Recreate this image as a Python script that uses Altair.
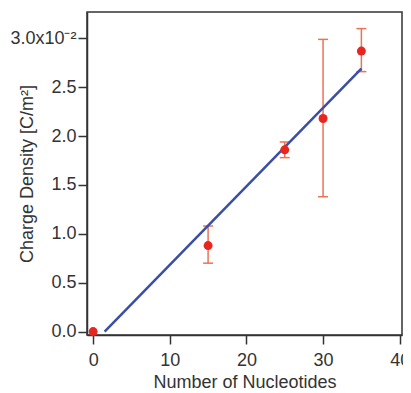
import altair as alt
import pandas as pd

# Data (charge density in units of 1e-2 C/m^2)
nucleotides = [0, 15, 25, 30, 35]
density = [0.0, 0.88, 1.86, 2.18, 2.87]
err_low = [0.0, 0.70, 1.78, 1.38, 2.66]
err_high = [0.0, 1.08, 1.94, 2.99, 3.10]

fit_x = [1.5, 35.0]
fit_y = [0.0, 2.69]

x_ticks = [0, 10, 20, 30, 40]
y_ticks = [0.0, 0.5, 1.0, 1.5, 2.0, 2.5, 3.0]

pts = pd.DataFrame({"n": nucleotides, "d": density, "lo": err_low, "hi": err_high})
err = pts[pts["hi"] > pts["lo"]]
fit = pd.DataFrame({"n": fit_x, "d": fit_y})

FONT = "Liberation Sans"
ERR_COLOR = "#ec7256"
PT_COLOR = "#e8261f"
LINE_COLOR = "#3b4ea6"

xs = alt.Scale(domain=[-0.8, 40.3], nice=False, zero=False)
ys = alt.Scale(domain=[-0.035, 3.27], nice=False, zero=False)

x_axis = alt.Axis(values=x_ticks, title="Number of Nucleotides", grid=False,
                  tickSize=9, labelPadding=7, titlePadding=4)
y_axis = alt.Axis(values=y_ticks, title="Charge Density [C/m²]", grid=False,
                  tickSize=9, labelPadding=2, titleX=-51,
                  labelExpr="datum.value > 2.99 ? '3.0x10⁻²' : format(datum.value, '.1f')")

base_x = alt.X("n:Q", scale=xs, axis=x_axis)
base_y = alt.Y("d:Q", scale=ys, axis=y_axis)

line = alt.Chart(fit).mark_line(color=LINE_COLOR, strokeWidth=2.5).encode(x=base_x, y=base_y)

bars = alt.Chart(err).mark_rule(color=ERR_COLOR, strokeWidth=1.5).encode(
    x=alt.X("n:Q", scale=xs), y=alt.Y("lo:Q", scale=ys), y2="hi:Q")
cap_lo = alt.Chart(err).mark_tick(color=ERR_COLOR, orient="horizontal", size=10, thickness=1.5, opacity=1).encode(
    x=alt.X("n:Q", scale=xs), y=alt.Y("lo:Q", scale=ys))
cap_hi = alt.Chart(err).mark_tick(color=ERR_COLOR, orient="horizontal", size=10, thickness=1.5, opacity=1).encode(
    x=alt.X("n:Q", scale=xs), y=alt.Y("hi:Q", scale=ys))
points = alt.Chart(pts).mark_circle(color=PT_COLOR, size=80, opacity=1).encode(
    x=alt.X("n:Q", scale=xs), y=alt.Y("d:Q", scale=ys))

chart = alt.layer(bars, cap_lo, cap_hi, line, points).properties(
    width=315, height=323,
    autosize=alt.AutoSizeParams(type="none"),
    padding={"left": 79, "top": 4, "right": 1, "bottom": 62},
).configure_view(stroke="#333333", strokeWidth=1.5).configure_axis(
    domainColor="#333333", tickColor="#333333", domainWidth=1.5, tickWidth=1.5,
    labelFont=FONT, titleFont=FONT, labelFontSize=18, titleFontSize=18,
    labelColor="#333333", titleColor="#333333", titleFontWeight="normal",
)

chart.save("out.html", embed_options={"renderer": "svg", "actions": False})
